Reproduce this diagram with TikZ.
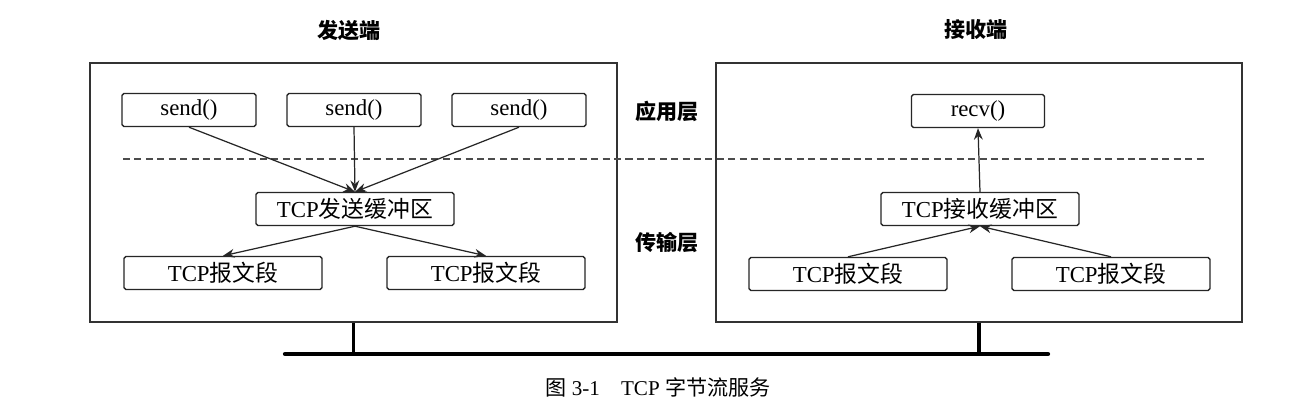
\documentclass[tikz,border=0pt]{standalone}
\usepackage{fontspec}
\setmainfont{Liberation Serif}
\newfontfamily\cjk{Noto Sans CJK SC}
\usetikzlibrary{arrows.meta}
\tikzset{
  frame/.style={draw=black!80, line width=0.7pt, minimum height=5.18cm},
  box/.style={draw=black!85, line width=0.8pt, rounded corners=1pt,
              minimum height=0.66cm, inner sep=0pt,
              font=\fontsize{13}{15}\selectfont},
  flow/.style={draw=black!85, line width=0.7pt,
               -{Stealth[length=6.5pt,width=5pt]}},
  layer/.style={draw=black!70, line width=0.9pt, dash pattern=on 4pt off 2.5pt},
  bus/.style={draw=black, line width=2.4pt},
  drop/.style={draw=black, line width=1.8pt},
  title/.style={font=\cjk\bfseries\fontsize{12}{14}\selectfont},
  tag/.style={font=\cjk\bfseries\fontsize{12}{14}\selectfont}
}

\begin{document}
\begin{tikzpicture}[x=0.02cm, y=-0.02cm]
\useasboundingbox[fill=white] (0,0) rectangle (1296,414);

% the two hosts
\node[frame, minimum width=10.54cm] (sender) at (353.5,192.5) {};
\node[frame, minimum width=10.52cm] (receiver) at (979,192.5) {};
\node[title] (sendtitle) at (349,30) {发送端};
\node[title] (recvtitle) at (976,30) {接收端};

% layers
\coordinate (dashL) at (123,159);
\coordinate (dashR) at (1207,159);
\draw[layer] (dashL) -- (dashR);
\node[tag] (app) at (667,111) {应用层};
\node[tag] (trans) at (667,243) {传输层};

% sender side
\node[box, minimum width=2.68cm] (s1) at (189,110) {send()};
\node[box, minimum width=2.68cm] (s2) at (354,110) {send()};
\node[box, minimum width=2.68cm] (s3) at (519,110) {send()};
\node[box, minimum width=3.96cm] (sbuf) at (355,209) {TCP{\cjk 发送缓冲区}};
\node[box, minimum width=3.96cm] (sseg1) at (223,273) {TCP{\cjk 报文段}};
\node[box, minimum width=3.96cm] (sseg2) at (486,273) {TCP{\cjk 报文段}};

\foreach \src in {s1,s2,s3}
  \draw[flow] (\src.south) -- (sbuf.north);
\foreach \dst in {sseg1,sseg2}
  \draw[flow] (sbuf.south) -- (\dst.north);

% receiver side
\node[box, minimum width=2.66cm] (recv) at (978,111) {recv()};
\node[box, minimum width=3.96cm] (rbuf) at (980,209) {TCP{\cjk 接收缓冲区}};
\node[box, minimum width=3.96cm] (rseg1) at (848,274) {TCP{\cjk 报文段}};
\node[box, minimum width=3.96cm] (rseg2) at (1111,274) {TCP{\cjk 报文段}};

\draw[flow] (rbuf.north) -- (recv.south);
\foreach \src in {rseg1,rseg2}
  \draw[flow] (\src.north) -- (rbuf.south);

% the network
\coordinate (busL) at (285,354);
\coordinate (busR) at (1048,354);
\draw[bus, line cap=round] (busL) -- (busR);
\draw[drop] (sender.south) -- (sender.south |- busL);
\draw[drop] (receiver.south) -- (receiver.south |- busL);

\node[font=\fontsize{12}{14}\selectfont] (caption) at (658,387)
  {{\cjk 图} 3-1\quad TCP {\cjk 字节流服务}};
\end{tikzpicture}
\end{document}
